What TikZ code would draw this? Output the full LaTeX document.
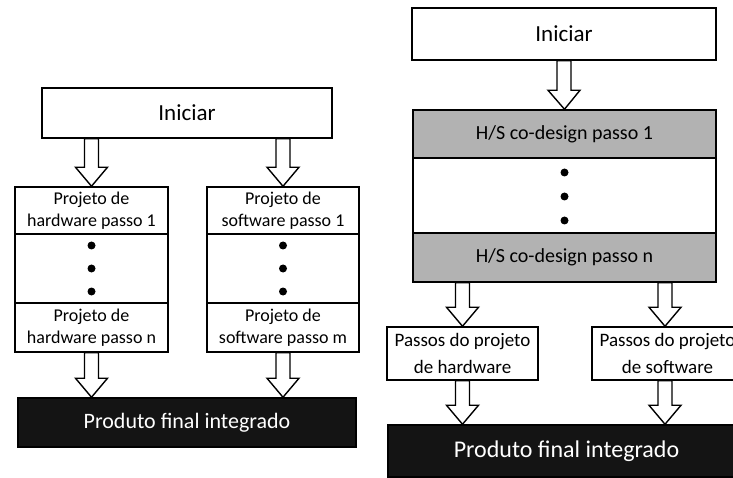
\documentclass[tikz,border=0pt]{standalone}
\usepackage{fontspec}
\setmainfont{Carlito}
\usetikzlibrary{calc}

\tikzset{
  box/.style={draw=black, line width=1.5pt, fill=white, inner sep=0pt, align=center},
  graybox/.style={box, fill=black!30},
  blackbox/.style={box, fill=black!92, text=white},
  stepfont/.style={font=\fontsize{18}{22}\selectfont},
  % hollow block arrow drawn between two points
  blockarrow/.style={draw=black, fill=white, line width=1.4pt, line join=miter,
    to path={let \p1=(\tikztostart), \p2=(\tikztotarget) in
      (\x1-7pt,\y1) -- (\x1-7pt,\y2+19pt) -- (\x1-16pt,\y2+19pt) -- (\x2,\y2)
      -- (\x1+16pt,\y2+19pt) -- (\x1+7pt,\y2+19pt) -- (\x1+7pt,\y1) -- cycle}},
  dot/.style={circle, fill=black, inner sep=0pt, minimum size=8pt}
}

\begin{document}
\begin{tikzpicture}[x=1pt, y=-1pt]
  \useasboundingbox (0,0) rectangle (733,478);
  \clip (0,0) rectangle (733,478);
  \fill[white] (0,0) rectangle (733,478);

  % ---------- separate hardware / software flow ----------
  \node[box, minimum width=290pt, minimum height=50pt, font=\fontsize{23}{26}\selectfont]
    (iniL) at (187,113) {Iniciar};

  \node[box, stepfont, minimum width=153pt, minimum height=47pt] (hw1) at (91.5,210.5)
    {Projeto de\\hardware passo 1};
  \node[box, minimum width=153pt, minimum height=69pt] (hwdots) at (91.5,268.5) {};
  \node[box, stepfont, minimum width=153pt, minimum height=49pt] (hwn) at (91.5,327.5)
    {Projeto de\\hardware passo n};

  \node[box, stepfont, minimum width=152pt, minimum height=47pt] (sw1) at (283,210.5)
    {Projeto de\\software passo 1};
  \node[box, minimum width=152pt, minimum height=69pt] (swdots) at (283,268.5) {};
  \node[box, stepfont, minimum width=152pt, minimum height=49pt] (swm) at (283,327.5)
    {Projeto de\\software passo m};

  \node[blackbox, minimum width=338pt, minimum height=49pt, font=\fontsize{22}{26}\selectfont]
    (prodL) at (187,422.5) {Produto final integrado};

  \foreach \n in {hwdots, swdots} {
    \node[dot] at ($(\n.center)+(0,-23)$) {};
    \node[dot] at (\n.center) {};
    \node[dot] at ($(\n.center)+(0,23)$) {};
  }

  \coordinate (aL1s) at (iniL.south -| hw1.north);
  \coordinate (aL2s) at (iniL.south -| sw1.north);
  \draw[blockarrow] (aL1s) to (hw1.north);
  \draw[blockarrow] (aL2s) to (sw1.north);
  \coordinate (aL3e) at (prodL.north -| hwn.south);
  \coordinate (aL4e) at (prodL.north -| swm.south);
  \draw[blockarrow] (hwn.south) to (aL3e);
  \draw[blockarrow] (swm.south) to (aL4e);

  % ---------- hardware/software co-design flow ----------
  \node[box, minimum width=304pt, minimum height=52pt, font=\fontsize{23}{26}\selectfont]
    (iniR) at (564,34) {Iniciar};

  \node[graybox, minimum width=303pt, minimum height=48pt, font=\fontsize{20}{24}\selectfont]
    (co1) at (564.5,134) {H/S co-design passo 1};
  \node[box, minimum width=303pt, minimum height=75pt] (codots) at (564.5,195.5) {};
  \node[graybox, minimum width=303pt, minimum height=49pt, font=\fontsize{20}{24}\selectfont]
    (con) at (564.5,257.5) {H/S co-design passo n};

  \node[dot] at ($(codots.center)+(0,-23)$) {};
  \node[dot] at ($(codots.center)+(0,1)$) {};
  \node[dot] at ($(codots.center)+(0,25)$) {};

  \node[box, minimum width=151pt, minimum height=53pt, font=\fontsize{19}{27}\selectfont]
    (passHW) at (462.5,353.5) {Passos do projeto\\de hardware};
  \node[box, minimum width=151pt, minimum height=53pt, font=\fontsize{19}{27}\selectfont]
    (passSW) at (667.5,353.5) {Passos do projeto\\de software};

  \node[blackbox, minimum width=357pt, minimum height=52pt, font=\fontsize{24}{28}\selectfont]
    (prodR) at (566.5,451) {Produto final integrado};

  \draw[blockarrow] (iniR.south) to (co1.north);
  \coordinate (aR1s) at (con.south -| passHW.north);
  \coordinate (aR2s) at (con.south -| 665,0);
  \coordinate (aR2e) at (passSW.north -| 665,0);
  \draw[blockarrow] (aR1s) to (passHW.north);
  \draw[blockarrow] (aR2s) to (aR2e);
  \coordinate (aR3e) at (prodR.north -| passHW.south);
  \coordinate (aR4s) at (passSW.south -| 665,0);
  \coordinate (aR4e) at (prodR.north -| 665,0);
  \draw[blockarrow] (passHW.south) to (aR3e);
  \draw[blockarrow] (aR4s) to (aR4e);
\end{tikzpicture}
\end{document}
